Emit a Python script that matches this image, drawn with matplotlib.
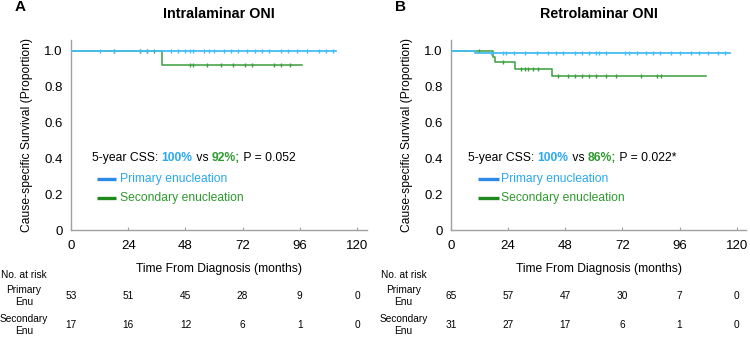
import matplotlib.pyplot as plt
import matplotlib.transforms as mtransforms

plt.rcParams['font.family'] = ['Liberation Sans', 'DejaVu Sans']

BLUE = '#45bdf5'
GREEN = '#3a9e3a'
BLUE_TXT = '#2aa8f0'
GREEN_TXT = '#2e9a2e'
BLUE_LEG = '#2a8ae6'
GREEN_LEG = '#1e8a1e'
GRAY = '#a0a0a0'

# ---- data ----
xticks = [0, 24, 48, 72, 96, 120]
yticks = [0, 0.2, 0.4, 0.6, 0.8, 1.0]
ytick_labels = ['0', '0.2', '0.4', '0.6', '0.8', '1.0']

# panel A: intralaminar
a_title = 'Intralaminar ONI'
a_prim_t = [0, 111]
a_prim_s = [1.0, 1.0]
a_prim_cens = [12, 18, 29, 32, 42, 45, 48, 50, 51, 56, 58, 60, 64, 67, 70, 74, 77,
               80, 83, 88, 91, 95, 99, 104, 107, 110]
a_sec_t = [0, 38, 97]
a_sec_s = [1.0, 0.923, 0.923]
a_sec_cens = [18, 29, 32, 35, 50, 51, 57, 63, 68, 73, 76, 85, 88, 92]
a_risk_prim = [53, 51, 45, 28, 9, 0]
a_risk_sec = [17, 16, 12, 6, 1, 0]
a_css = ['100%', '92%;', ' P = 0.052']

# panel B: retrolaminar
b_title = 'Retrolaminar ONI'
b_prim_t = [0, 10, 117]
b_prim_s = [1.0, 0.985, 0.985]
b_prim_cens = [17, 22, 23, 26.5, 31, 36, 41, 44, 47, 52, 55, 58, 61, 62, 65, 73, 75,
               78, 82, 85, 87.6, 92.6, 96, 101, 104, 108, 112, 115]
b_sec_t = [0, 17.7, 18.5, 27, 42.4, 107]
b_sec_s = [1.0, 0.967, 0.935, 0.90, 0.857, 0.857]
b_sec_cens = [12, 22, 29.5, 31, 32.4, 34.5, 36.6, 45, 49, 52, 55, 58, 61, 65, 69.5,
              80, 86.7, 88.4]
b_risk_prim = [65, 57, 47, 30, 7, 0]
b_risk_sec = [31, 27, 17, 6, 1, 0]
b_css = ['100%', '86%;', ' P = 0.022*']


def step_value(t, s, x):
    v = s[0]
    for ti, si in zip(t, s):
        if x >= ti:
            v = si
    return v


def colored_text(ax, x, y, parts, fig, **kw):
    renderer = fig.canvas.get_renderer()
    trans = ax.transData
    for text, color, weight in parts:
        t = ax.text(x, y, text, color=color, fontweight=weight, transform=trans,
                    va='center', ha='left', **kw)
        ext = t.get_window_extent(renderer=renderer)
        trans = mtransforms.offset_copy(t.get_transform(), fig=fig, x=ext.width, units='dots')


fig = plt.figure(figsize=(7.5, 3.38), dpi=100)

panels = [
    (0.0947, 'A', a_title, a_prim_t, a_prim_s, a_prim_cens, a_sec_t, a_sec_s, a_sec_cens,
     a_risk_prim, a_risk_sec, a_css, 8.8, (11, 19, 20.5)),
    (0.601, 'B', b_title, b_prim_t, b_prim_s, b_prim_cens, b_sec_t, b_sec_s, b_sec_cens,
     b_risk_prim, b_risk_sec, b_css, 7.2, (11.4, 20.2, 21)),
]

FS = 8.7

for (left, letter, title, pt, ps, pc, st, ss, sc, rp, rs, css, css_x, leg) in panels:
    ax = fig.add_axes([left, 0.3195, 0.394, 0.5622])
    ax.set_xlim(0, 124)
    ax.set_ylim(0, 1.06)
    for sp in ['top', 'right']:
        ax.spines[sp].set_visible(False)
    for sp in ['left', 'bottom']:
        ax.spines[sp].set_color(GRAY)
        ax.spines[sp].set_linewidth(1.0)
    ax.set_xticks(xticks)
    ax.set_yticks(yticks)
    ax.set_yticklabels(ytick_labels)
    ax.tick_params(axis='x', direction='in', length=2, color=GRAY, pad=7, labelsize=9.5)
    ax.tick_params(axis='y', length=0, pad=6, labelsize=9.5)

    # curves
    ax.step(st, ss, where='post', color=GREEN, lw=1.1, zorder=2)
    ax.plot(sc, [step_value(st, ss, c) for c in sc], ls='none', marker='|',
            ms=3, mew=1.0, color=GREEN, zorder=2)
    ax.step(pt, ps, where='post', color=BLUE, lw=1.3, zorder=3)
    ax.plot(pc, [step_value(pt, ps, c) for c in pc], ls='none', marker='|',
            ms=3, mew=1.0, color=BLUE, zorder=3)

    # annotation
    colored_text(ax, css_x, 0.40, [('5-year CSS: ', 'black', 'normal'),
                                   (css[0], BLUE_TXT, 'bold'),
                                   (' vs ', 'black', 'normal'),
                                   (css[1], GREEN_TXT, 'bold'),
                                   (css[2], 'black', 'normal')], fig, fontsize=FS)
    # legend
    ax.plot([leg[0], leg[1]], [0.283, 0.283], color=BLUE_LEG, lw=2.4, solid_capstyle='butt')
    ax.plot([leg[0], leg[1]], [0.176, 0.176], color=GREEN_LEG, lw=2.4, solid_capstyle='butt')
    ax.text(leg[2], 0.283, 'Primary enucleation', color=BLUE_TXT, fontsize=FS, va='center')
    ax.text(leg[2], 0.176, 'Secondary enucleation', color=GREEN_TXT, fontsize=FS, va='center')

    ax.set_title(title, fontsize=10.3, fontweight='bold', pad=16)
    ax.set_xlabel('Time From Diagnosis (months)', fontsize=FS, labelpad=8)
    ax.set_ylabel('Cause-specific Survival (Proportion)', fontsize=FS, labelpad=8)

    fig.text(left - 0.0747, 0.978, letter, fontsize=11, fontweight='bold', va='center', ha='left')

    # number at risk table
    tr = mtransforms.blended_transform_factory(ax.transData, fig.transFigure)
    lab_x = left - 0.063
    fig.text(lab_x, 1 - 275 / 338, 'No. at risk', fontsize=7.3, ha='center', va='center')
    fig.text(lab_x, 1 - 296 / 338, 'Primary\nEnu', fontsize=7.3, ha='center', va='center',
             linespacing=1.2)
    fig.text(lab_x, 1 - 325 / 338, 'Secondary\nEnu', fontsize=7.3, ha='center', va='center',
             linespacing=1.2)
    for xv, n1, n2 in zip(xticks, rp, rs):
        ax.text(xv, 1 - 296 / 338, str(n1), transform=tr, fontsize=7.3, ha='center', va='center')
        ax.text(xv, 1 - 325 / 338, str(n2), transform=tr, fontsize=7.3, ha='center', va='center')

fig.savefig('out.png', dpi=100)
